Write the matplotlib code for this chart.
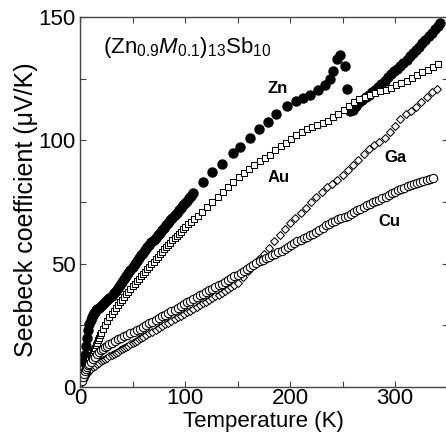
import matplotlib
matplotlib.use('Agg')
import matplotlib.pyplot as plt
from matplotlib.ticker import MultipleLocator

# Seebeck coefficient of (Zn0.9M0.1)13Sb10
zn_t = [4, 5, 6, 7, 8, 9, 10, 11, 12, 13, 14, 15, 16, 18, 20, 22, 24, 26, 28, 30,
        32, 34, 36, 38, 40, 42, 44, 46, 48, 50, 52, 54, 56, 58, 60, 62, 64, 66, 68, 70,
        72, 74, 76, 78, 80, 82, 84, 86, 88, 90, 92, 94, 96, 98, 100, 102, 104, 106, 108,
        117, 126, 135, 146, 152, 162, 170, 179, 187, 197, 206, 212, 219, 227, 233, 238,
        241, 245, 248, 252, 254,
        257, 260, 263, 266, 269, 272, 275, 278, 281, 284, 287, 290, 293, 296, 299, 302,
        305, 308, 311, 314, 317, 320, 323, 326, 329, 332, 335, 338, 341, 343]
zn_s = [10, 13, 16.5, 20, 23, 25.5, 27, 28.3, 29.3, 30, 30.6, 31.1, 31.5, 32.2, 33, 33.7,
        34.4, 35.2, 36, 37, 38, 39, 40.2, 41.5, 42.7, 43.9, 45.1, 46.3, 47.5, 48.7, 49.9,
        51.1, 52.3, 53.4, 54.5, 55.6, 56.6, 57.6, 58.6, 59.6, 60.6, 61.6, 62.6, 63.6, 64.6,
        65.6, 66.6, 67.6, 68.6, 69.6, 70.6, 71.6, 72.6, 73.6, 74.6, 75.6, 76.6, 77.6, 78.6,
        83, 87, 90.5, 95, 97.5, 101, 104.5, 107.5, 110.5, 114, 116, 117.3, 118.5, 120.5,
        122.5, 125, 128, 133, 134.5, 130, 121,
        112, 112.5, 114, 115.5, 116.5, 117.5, 118.5, 119.5, 120.5, 121.5, 123, 124, 125.5,
        127, 128, 129, 130, 131.3, 132.5, 134, 135.3, 136.5, 138, 139.3, 140.8, 142.2,
        143.5, 145, 146.5, 147.5]

au_t = [1, 2, 3, 4, 5, 6, 7, 8, 9, 10, 11, 12, 13, 14, 15, 16, 17, 18, 19, 20, 22, 24,
        26, 28, 30, 32, 34, 36, 38, 40, 42, 44, 46, 48, 50, 52, 54, 56, 58, 60, 62, 64,
        66, 68, 70, 72, 74, 76, 78, 80, 82, 84, 86, 88, 90, 92, 94, 96, 98, 100, 103, 106,
        109, 112, 116, 121, 126, 131, 136, 141, 146, 151, 156, 161, 166, 171, 176, 181,
        186, 191, 196, 201, 206, 211, 216, 221, 226, 231, 236, 241, 246, 251, 256, 261,
        266, 271, 276, 281, 286, 291, 296, 301, 306, 311, 316, 321, 326, 331, 336, 341]
au_s = [3, 4, 5, 6.2, 7.3, 8.3, 9.2, 10.1, 11, 12, 13, 14, 15, 16, 17, 18, 19, 20, 21,
        22, 23.7, 25.3, 26.8, 28.2, 29.5, 30.8, 32, 33.2, 34.3, 35.4, 36.5, 37.6, 38.7,
        39.8, 40.8, 41.8, 42.8, 43.8, 44.8, 45.8, 46.8, 47.8, 48.8, 49.8, 50.8, 51.8, 52.8,
        53.8, 54.8, 55.8, 56.7, 57.6, 58.5, 59.4, 60.3, 61.2, 62.1, 63, 63.9, 64.8, 66, 67,
        68.3, 69.5, 71, 73, 75, 77, 79, 81, 83, 85, 86.8, 88.5, 90, 91.5, 92.8, 94, 96,
        97.6, 99, 100.5, 102, 103.3, 104.5, 105.5, 106.3, 107, 108, 109.5, 110.8, 112.3,
        114, 115.5, 116.6, 117.5, 118.3, 119, 119.8, 120.6, 121.4, 122.3, 123.2, 124.2,
        125.3, 126.4, 127.6, 128.7, 129.8, 131]

ga_t = [2, 3, 4, 5, 6, 7, 8, 9, 10, 12, 14, 16, 18, 20, 22, 24, 26, 28, 30, 32, 34, 36,
        38, 40, 42, 44, 46, 48, 50, 52, 54, 56, 58, 60, 63, 66, 69, 72, 75, 78, 81, 84,
        87, 90, 93, 96, 99, 102, 105, 108, 111, 114, 117, 120, 123, 126, 129, 132, 135,
        138, 141, 144, 147, 150, 155, 160, 165, 170, 175, 180, 185, 190, 195, 200, 205,
        210, 215, 220, 225, 230, 235, 240, 245, 250, 255, 260, 265, 270, 275, 280, 285,
        290, 295, 300, 305, 310, 315, 320, 325, 330, 335, 340]
ga_s = [2, 3, 3.8, 4.5, 5.1, 5.7, 6.2, 6.7, 7.2, 8, 8.7, 9.3, 9.9, 10.4, 10.9, 11.4,
        11.9, 12.4, 12.9, 13.4, 13.9, 14.3, 14.8, 15.3, 15.8, 16.3, 16.8, 17.3, 17.8, 18.3,
        18.8, 19.3, 19.8, 20.3, 21, 21.8, 22.5, 23.3, 24, 24.7, 25.4, 26.1, 26.8, 27.5,
        28.2, 28.9, 29.6, 30.3, 31, 31.7, 32.4, 33.1, 33.9, 34.6, 35.3, 36, 36.8, 37.5,
        38.3, 39, 39.8, 40.6, 41.4, 42.2, 44.5, 47, 49.5, 52, 54, 56.5, 59, 61.5, 64, 66.5,
        68.5, 70.5, 72.5, 75, 77, 79, 81, 82.5, 84, 86, 88, 90, 92, 94.5, 96.5, 98, 99.5,
        101, 103.5, 106, 108.5, 110.5, 112, 113.5, 115.5, 117.5, 119.5, 121]

cu_t = [2, 3, 4, 5, 6, 7, 8, 9, 10, 12, 14, 16, 18, 20, 22, 24, 26, 28, 30, 33, 36, 39,
        42, 45, 48, 51, 54, 57, 60, 63, 66, 69, 72, 75, 78, 81, 84, 87, 90, 93, 96, 99,
        102, 105, 108, 111, 114, 117, 120, 123, 126, 129, 132, 135, 138, 141, 144, 147,
        150, 153, 156, 159, 162, 165, 168, 171, 174, 177, 180, 183, 186, 189, 192, 195,
        198, 201, 204, 207, 210, 213, 216, 219, 222, 225, 228, 231, 234, 237, 240, 243,
        246, 249, 252, 255, 258, 261, 264, 267, 270, 273, 276, 279, 282, 285, 288, 291,
        294, 297, 300, 303, 306, 309, 312, 315, 318, 321, 324, 327, 330, 333, 336]
cu_s = [2.5, 4, 5.2, 6.3, 7.2, 8, 8.8, 9.5, 10.2, 11.3, 12.3, 13.2, 14, 14.8, 15.5, 16.2,
        16.8, 17.4, 18, 18.7, 19.3, 19.9, 20.5, 21.1, 21.7, 22.3, 23, 23.7, 24.4, 25.1,
        25.8, 26.5, 27.2, 27.9, 28.6, 29.3, 30, 30.7, 31.4, 32.1, 32.8, 33.5, 34.3, 35,
        35.8, 36.5, 37.2, 37.9, 38.5, 39.2, 39.9, 40.5, 41.2, 41.8, 42.5, 43.3, 44, 44.8,
        45.6, 46.4, 47.2, 48, 48.8, 49.5, 50.2, 50.9, 51.6, 52.2, 52.8, 53.5, 54, 54.6,
        55.3, 56, 56.8, 57.5, 58.2, 59, 59.7, 60.4, 61, 61.6, 62.2, 63, 63.8, 64.6, 65.5,
        66.2, 66.9, 67.4, 68, 68.5, 69, 69.5, 70.2, 71, 71.7, 72.3, 73, 73.6, 74.3, 74.9,
        75.5, 76, 76.6, 77.2, 77.9, 78.5, 79.1, 79.7, 80.2, 80.8, 81.3, 81.8, 82.2, 82.6,
        83, 83.4, 83.8, 84.2, 84.6]

plt.rcParams['font.family'] = ['Liberation Sans', 'DejaVu Sans']
plt.rcParams['mathtext.fontset'] = 'custom'
plt.rcParams['mathtext.rm'] = 'Liberation Sans'
plt.rcParams['mathtext.it'] = 'Liberation Sans:italic'

fig = plt.figure(figsize=(4.46, 4.37), dpi=100)
ax = fig.add_axes([80 / 446, 50 / 437, 367.5 / 446, 370 / 437])

ax.plot(zn_t, zn_s, 'o', ms=6.5, color='black', mec='black')
ax.plot(au_t, au_s, 's', ms=4.8, mfc='white', mec='black', mew=0.75)
ax.plot(ga_t, ga_s, 'D', ms=4.2, mfc='white', mec='black', mew=0.75)
ax.plot(cu_t, cu_s, 'o', ms=6.0, mfc='white', mec='black', mew=0.75)

ax.set_xlim(0, 350)
ax.set_ylim(0, 150)
ax.xaxis.set_major_locator(MultipleLocator(100))
ax.xaxis.set_minor_locator(MultipleLocator(50))
ax.yaxis.set_major_locator(MultipleLocator(50))
ax.yaxis.set_minor_locator(MultipleLocator(25))
ax.tick_params(which='both', direction='in', top=True, right=True,
               length=4, width=0.8, color='#444444', labelsize=16)
ax.tick_params(axis='x', pad=1)
ax.tick_params(axis='y', pad=3)
for sp in ax.spines.values():
    sp.set_color('#444444')
    sp.set_linewidth(1.0)

ax.set_xlabel('Temperature (K)', fontsize=16, labelpad=1)
ax.set_ylabel('Seebeck coefficient (\u03bcV/K)', fontsize=18)
ax.yaxis.set_label_coords(-0.113, 0.478)

ax.text(22, 137.5, '(Zn$_{0.9}$$\\mathit{M}$$_{0.1}$)$_{13}$Sb$_{10}$', fontsize=16,
        va='center', ha='left')
ax.text(188, 121, 'Zn', fontsize=12, fontweight='bold', ha='center', va='center')
ax.text(189, 85, 'Au', fontsize=12, fontweight='bold', ha='center', va='center')
ax.text(300, 93, 'Ga', fontsize=12, fontweight='bold', ha='center', va='center')
ax.text(295, 67, 'Cu', fontsize=12, fontweight='bold', ha='center', va='center')

fig.savefig('out.png', dpi=100)
plt.close(fig)
